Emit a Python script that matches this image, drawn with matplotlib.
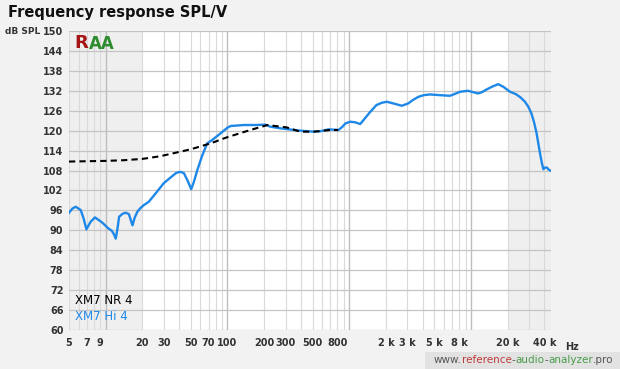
import matplotlib.pyplot as plt
from matplotlib.ticker import FixedLocator, NullFormatter

# XM7 Hi 4 (blue)
hi_freq = [5.0, 5.35, 5.68, 6.24, 6.6, 6.95, 7.5, 8.17, 9.4, 10.5, 11.2, 11.7, 12.1, 12.5, 12.9,
           13.8, 14.6, 15.5, 16.6, 17.3, 18.2, 19.3, 20.6, 22.6, 25.7, 30, 34.1, 38, 41.2,
           43.9, 47, 50.4, 53, 56.5, 62, 68.2, 75, 87.7, 100, 106, 136, 170, 205, 225, 272,
           320, 395, 510, 575, 675, 815, 880, 930, 1020, 1120, 1230, 1350, 1490, 1670, 1850,
           2030, 2300, 2700, 3050, 3350, 3700, 4100, 4600, 5500, 6700, 7400, 8100, 9400,
           10400, 11400, 12300, 13400, 15000, 16700, 18400, 20900, 23300, 25500, 27700,
           29500, 31300, 33000, 34500, 36800, 38000, 39200, 40500, 41900, 43300, 44700]
hi_db = [95.3, 96.6, 97.1, 96.1, 93.5, 90.3, 92.5, 93.9, 92.3, 90.6, 89.9, 88.8, 87.5, 90.5, 94.1,
         95.0, 95.3, 94.9, 91.5, 93.8, 95.6, 96.7, 97.6, 98.6, 101.1, 104.2, 105.9, 107.3, 107.6,
         107.2, 105.0, 102.4, 104.6, 108.1, 112.5, 116.2, 117.2, 119.2, 120.9, 121.4, 121.7,
         121.7, 121.8, 121.2, 120.7, 120.4, 120.0, 119.7, 119.8, 120.4, 120.2, 121.2, 122.2,
         122.7, 122.5, 122.0, 123.8, 125.7, 127.7, 128.4, 128.7, 128.2, 127.5, 128.2, 129.3,
         130.2, 130.7, 130.9, 130.7, 130.5, 131.1, 131.7, 132.0, 131.6, 131.2, 131.6, 132.4,
         133.3, 134.0, 133.2, 131.7, 131.0, 130.0, 128.7, 127.2, 125.2, 122.3, 119.2, 113.2,
         110.5, 108.4, 108.9, 108.9, 108.3, 108.0]

# XM7 NR 4 (black dashed)
nr_freq = [5.0, 7, 10, 14, 20, 28, 36, 50, 73, 99, 154, 213, 272, 305, 395, 510, 700, 810]
nr_db = [110.7, 110.8, 110.9, 111.1, 111.5, 112.3, 113.2, 114.4, 116.2, 118.0, 120.2, 121.7,
         121.2, 121.0, 119.7, 119.7, 120.2, 120.2]

xtick_vals = [5, 7, 9, 20, 30, 50, 70, 100, 200, 300, 500, 800, 2000, 3000, 5000, 8000, 20000, 40000]
xtick_labels = ['5', '7', '9', '20', '30', '50', '70', '100', '200', '300', '500', '800',
                '2 k', '3 k', '5 k', '8 k', '20 k', '40 k']
ytick_vals = list(range(60, 151, 6))

fig = plt.figure(figsize=(6.2, 3.69), dpi=100)
fig.patch.set_facecolor('#f2f2f2')

ax = fig.add_axes([69 / 620, 39 / 369, 482 / 620, 299 / 369])
ax.set_xscale('log')
ax.set_xlim(5, 45300)
ax.set_ylim(60, 150)
ax.set_facecolor('white')

# shaded regions below 20 Hz and above 20 kHz
ax.axvspan(5, 20, color='#efefef', zorder=0, lw=0)
ax.axvspan(20000, 45300, color='#efefef', zorder=0, lw=0)

# grid
minor = []
for dec in [1, 10, 100, 1000, 10000]:
    for m in range(2, 10):
        v = dec * m
        if 5 <= v <= 45300:
            minor.append(v)
for v in minor:
    ax.axvline(v, color='#dadada', lw=0.8, zorder=1)
for v in [10, 100, 1000, 10000]:
    ax.axvline(v, color='#bdbdbd', lw=1.0, zorder=1)
for v in ytick_vals:
    ax.axhline(v, color='#c4c4c4', lw=0.9, zorder=1)

ax.plot(nr_freq, nr_db, color='black', lw=1.5, linestyle=(0, (3, 2)), zorder=4)
ax.plot(hi_freq, hi_db, color='#1e88e8', lw=1.7, zorder=3)

for s in ax.spines.values():
    s.set_visible(False)

ax.xaxis.set_major_locator(FixedLocator(xtick_vals))
ax.set_xticklabels(xtick_labels)
ax.xaxis.set_minor_formatter(NullFormatter())
ax.set_yticks(ytick_vals)
ax.tick_params(axis='both', which='both', length=0, labelsize=7, colors='#333333')
for lbl in ax.get_xticklabels() + ax.get_yticklabels():
    lbl.set_fontweight('bold')
ax.tick_params(axis='x', pad=6)
ax.tick_params(axis='y', pad=4)

# legend as text
ax.text(0.013, 0.087, 'XM7 NR 4', transform=ax.transAxes, fontsize=8.5, color='black')
ax.text(0.013, 0.035, 'XM7 Hi 4', transform=ax.transAxes, fontsize=8.5, color='#1e88e8')

# logo
ax.text(0.012, 0.99, 'R', transform=ax.transAxes, fontsize=13, fontweight='bold',
        color='#a41515', va='top', zorder=5)
ax.text(0.041, 0.985, 'AA', transform=ax.transAxes, fontsize=12, fontweight='bold',
        color='#2e8b2e', va='top', zorder=5)

fig.text(8 / 620, 1 - 12 / 369, 'Frequency response SPL/V', fontsize=10.5, fontweight='bold',
         color='#111111', va='center')
fig.text(5 / 620, 1 - 31 / 369, 'dB SPL', fontsize=6.5, fontweight='bold', color='#333333',
         va='center')
fig.text(565 / 620, 1 - 347 / 369, 'Hz', fontsize=7, fontweight='bold', color='#333333',
         va='center')

# watermark
fig.patches.append(plt.Rectangle((425 / 620, 0), 195 / 620, 17 / 369, transform=fig.transFigure,
                                 facecolor='#e2e2e2', edgecolor='none'))
parts = [('www.', '#555555'), ('reference', '#c03a3a'), ('-', '#555555'), ('audio', '#4a9a4a'),
         ('-', '#555555'), ('analyzer', '#4a9a4a'), ('.pro', '#555555')]
x0 = 434 / 620
renderer = fig.canvas.get_renderer()
for txt, col in parts:
    t = fig.text(x0, 1 - 360 / 369, txt, fontsize=7.5, color=col, va='center')
    bb = t.get_window_extent(renderer=renderer)
    x0 += bb.width / fig.bbox.width

fig.savefig('out.png', dpi=100, facecolor=fig.get_facecolor())
